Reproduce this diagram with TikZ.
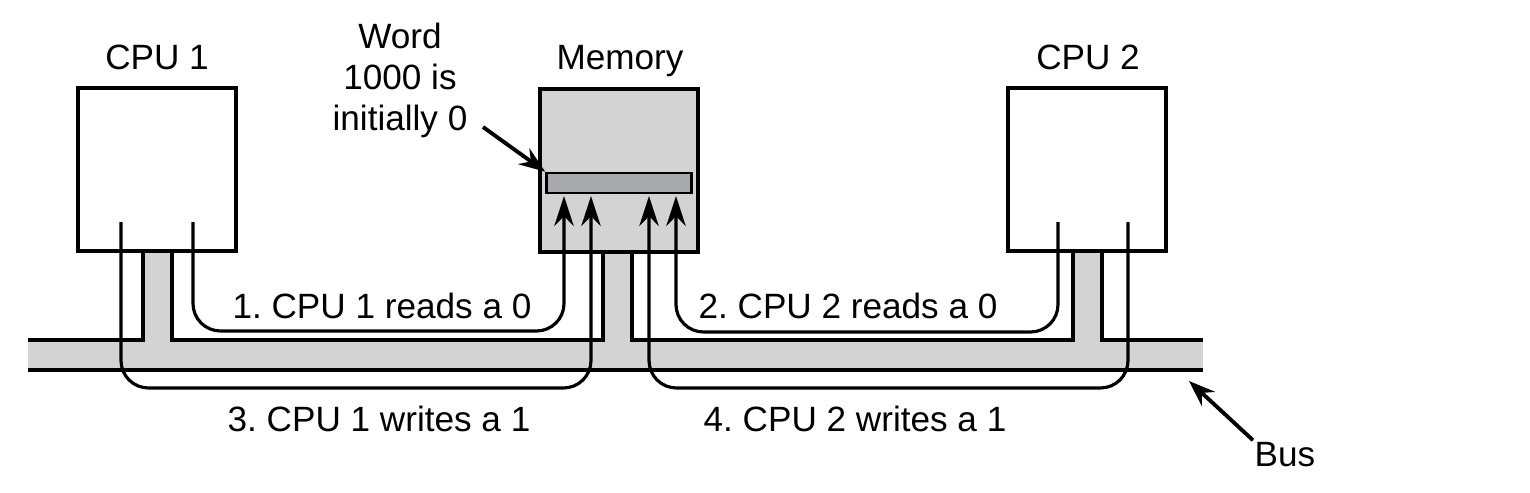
\documentclass[tikz,border=0pt]{standalone}
\usepackage{fontspec}
\setmainfont{Liberation Sans}
\usetikzlibrary{arrows.meta}

\definecolor{busgray}{RGB}{211,211,211}
\definecolor{wordgray}{RGB}{168,169,173}
\frenchspacing

\begin{document}
\begin{tikzpicture}[x=0.02cm, y=-0.02cm, line width=1.8pt,
  txt/.style={font=\fontsize{20}{23.2}\selectfont, inner sep=0pt},
  unit/.style={draw, minimum width=3.16cm, minimum height=3.26cm, inner sep=0pt},
  flow/.style={-{Stealth[length=17pt, width=11pt, inset=5.5pt]}, rounded corners=0.55cm},
  pointer/.style={line width=2.2pt, -{Stealth[length=15pt, width=11pt, inset=5pt]}}]
\useasboundingbox (0,0) rectangle (1530,493);

% bus
\fill[busgray] (28,340) rectangle (1203,370);
\fill[busgray] (143,250) rectangle (172,341);
\fill[busgray] (603,250) rectangle (632,341);
\fill[busgray] (1073,250) rectangle (1102,341);

\node[unit] (cpu1) at (157,169.5) {};
\node[unit, fill=busgray] (mem) at (619,170.5) {};
\node[unit] (cpu2) at (1087,169.5) {};
\node[draw, fill=wordgray, line width=1.5pt, minimum width=2.9cm, minimum height=0.4cm, inner sep=0pt] (bar) at (619,183) {};

\draw (28,370) -- (1203,370);
\draw (28,340) -- (143,340) -- (143,251);
\draw (172,251) -- (172,340) -- (603,340) -- (603,252);
\draw (632,252) -- (632,340) -- (1073,340) -- (1073,251);
\draw (1102,251) -- (1102,340) -- (1203,340);

% labels
\node[txt, anchor=base] (l1) at (157,70) {CPU 1};
\node[txt, anchor=base] (lm) at (620,70) {Memory};
\node[txt, anchor=base] (l2) at (1088,70) {CPU 2};
\node[txt, align=center] (word) at (400,80.5) {Word\\1000 is\\initially 0};
\node[txt, anchor=base west] (bus) at (1253,466) {Bus};

\node[txt, anchor=base] (s1) at (382,318) {1. CPU 1 reads a 0};
\node[txt, anchor=base] (s2) at (848,318) {2. CPU 2 reads a 0};
\node[txt, anchor=base] (s3) at (379,431) {3. CPU 1 writes a 1};
\node[txt, anchor=base] (s4) at (855,431) {4. CPU 2 writes a 1};

% start and end points
\coordinate (r1) at (193,222);
\coordinate (w1) at (121,222);
\coordinate (r2) at (1058,222);
\coordinate (w2) at (1128,222);
\coordinate (m1) at (564,196);
\coordinate (m3) at (591,196);
\coordinate (m4) at (649,196);
\coordinate (m2) at (676,196);
\coordinate (wa) at (483,127);
\coordinate (bt) at (1189,381);

\draw[flow] (r1) -- ++(0,109) -| (m1);
\draw[flow] (w1) -- ++(0,166) -| (m3);
\draw[flow] (r2) -- ++(0,110) -| (m2);
\draw[flow] (w2) -- ++(0,166) -| (m4);

\draw[pointer] (wa) -- (bar.north west);
\draw[pointer] (bus.north west) -- (bt);
\end{tikzpicture}
\end{document}
